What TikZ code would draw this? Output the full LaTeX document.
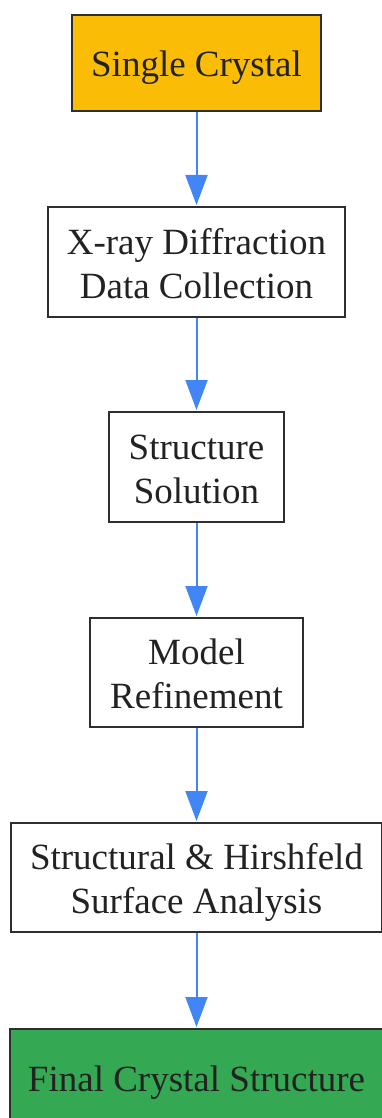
\documentclass[tikz,border=0pt]{standalone}
\usepackage{fontspec}
\setmainfont{Liberation Serif}
\usetikzlibrary{arrows.meta}
\definecolor{amber}{HTML}{FBBC05}
\definecolor{leafgreen}{HTML}{34A853}
\definecolor{flowblue}{HTML}{4285F4}
\definecolor{inkgray}{HTML}{222222}
\definecolor{edgegray}{HTML}{2E2E2E}
\newcommand{\lnstrut}{\rule[-8pt]{0pt}{44pt}}
\begin{document}
\begin{tikzpicture}[x=1pt,y=-1pt,
	stage/.style={draw=edgegray,line width=2pt,fill=white,text=inkgray,align=center,
		font=\fontsize{37}{44}\selectfont,inner sep=0pt},
	flow/.style={flowblue,line width=2pt,-{Triangle[length=30pt,width=22pt]},shorten >=1pt}]
	\useasboundingbox (0,0) rectangle (381,1118);
	\node [stage,fill=amber,minimum width=249pt,minimum height=96pt] (crystal) at (196.5,63) {\lnstrut Single Crystal};
	\node [stage,minimum width=297pt,minimum height=110pt] (xray) at (196.5,262) {\lnstrut X-ray Diffraction\\\lnstrut Data Collection};
	\node [stage,minimum width=175pt,minimum height=110pt] (solution) at (196.5,467) {\lnstrut Structure\\\lnstrut Solution};
	\node [stage,minimum width=213pt,minimum height=109pt] (refine) at (196.5,672.5) {\lnstrut Model\\\lnstrut Refinement};
	\node [stage,minimum width=371pt,minimum height=109pt] (analysis) at (196.5,877.5) {\lnstrut Structural \& Hirshfeld\\\lnstrut Surface Analysis};
	\node [stage,fill=leafgreen,minimum width=374pt,minimum height=96pt] (final) at (196.5,1077) {\lnstrut Final Crystal Structure};
	\draw [flow] (crystal) -- (xray);
	\draw [flow] (xray) -- (solution);
	\draw [flow] (solution) -- (refine);
	\draw [flow] (refine) -- (analysis);
	\draw [flow] (analysis) -- (final);
\end{tikzpicture}
\end{document}
